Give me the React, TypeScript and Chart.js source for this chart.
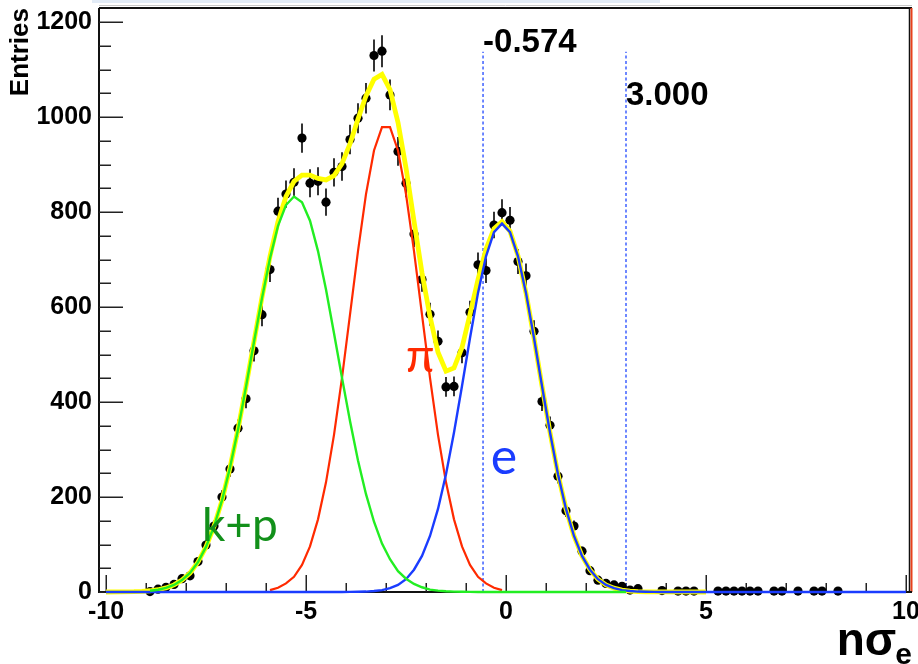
import React, { useEffect, useRef } from 'react';
import { Chart, registerables } from 'chart.js';

Chart.register(...registerables);

// ---- histogram (bin centres and entries) ----
const binCenters = [
  -8.9, -8.7, -8.5, -8.3, -8.1, -7.9, -7.7, -7.5, -7.3, -7.1,
  -6.9, -6.7, -6.5, -6.3, -6.1, -5.9, -5.7, -5.5, -5.3, -5.1,
  -4.9, -4.7, -4.5, -4.3, -4.1, -3.9, -3.7, -3.5, -3.3, -3.1,
  -2.9, -2.7, -2.5, -2.3, -2.1, -1.9, -1.7, -1.5, -1.3, -1.1,
  -0.9, -0.7, -0.5, -0.3, -0.1, 0.1, 0.3, 0.5, 0.7, 0.9,
  1.1, 1.3, 1.5, 1.7, 1.9, 2.1, 2.3, 2.5, 2.7, 2.9,
  3.1, 3.3, 3.9, 4.3, 4.5, 4.7, 5.3, 5.5, 5.7, 5.9,
  6.1, 6.3, 6.7, 6.9, 7.3, 7.7, 7.9, 8.3,
];
const entries = [
  1, 6, 10, 16, 28, 34, 64, 99, 139, 200,
  259, 345, 407, 508, 584, 679, 802, 838, 863, 956,
  861, 865, 821, 884, 896, 953, 998, 1040, 1130, 1139,
  1047, 928, 861, 754, 658, 585, 528, 432, 433, 504,
  589, 689, 677, 773, 799, 783, 696, 666, 549, 401,
  351, 244, 171, 139, 86, 45, 25, 18, 15, 12,
  4, 7, 3, 2, 2, 2, 2, 2, 2, 2,
  2, 2, 2, 2, 2, 2, 2, 2,
];

// ---- fit curves (sampled as drawn) ----
const kpX = [
  -8.9, -8.7, -8.5, -8.3, -8.1, -7.9, -7.7, -7.5, -7.3, -7.1,
  -6.9, -6.7, -6.5, -6.3, -6.1, -5.9, -5.7, -5.5, -5.3, -5.1,
  -4.9, -4.7, -4.5, -4.3, -4.1, -3.9, -3.7, -3.5, -3.3, -3.1,
  -2.9, -2.7, -2.5, -2.3, -2.1, -1.9, -1.7, -1.5, -1.3, -1.1,
  -0.9, -0.7, 3.0,
];
const kpY = [
  2.6, 4.8, 8.6, 14.9, 25, 40, 63, 95, 138, 193,
  262, 342, 432, 527, 619, 703, 771, 815, 833, 821,
  782, 718, 637, 545, 451, 360, 277, 206, 148, 102,
  69, 44, 28, 17, 10, 5, 3, 1.5, 0.8, 0.4,
  0.2, 0.1, 0,
];

const piX = [
  -5.9, -5.7, -5.5, -5.3, -5.1, -4.9, -4.7, -4.5, -4.3, -4.1,
  -3.9, -3.7, -3.5, -3.3, -3.1, -2.9, -2.7, -2.5, -2.3, -2.1,
  -1.9, -1.7, -1.5, -1.3, -1.1, -0.9, -0.7, -0.5, -0.3, -0.1,
];
const piY = [
  4, 9, 18, 32, 57, 96, 153, 231, 331, 451,
  584, 718, 838, 930, 979, 979, 930, 838, 718, 584,
  451, 331, 231, 153, 96, 57, 32, 18, 9, 4,
];

const eX = [
  -10.0, -4.1, -3.9, -3.7, -3.5, -3.3, -3.1, -2.9, -2.7, -2.5,
  -2.3, -2.1, -1.9, -1.7, -1.5, -1.3, -1.1, -0.9, -0.7, -0.5,
  -0.3, -0.1, 0.1, 0.3, 0.5, 0.7, 0.9, 1.1, 1.3, 1.5,
  1.7, 1.9, 2.1, 2.3, 2.5, 2.7, 2.9, 3.1, 3.3, 3.5,
  3.7, 3.9, 10.0,
];
const eY = [
  0, 0, 0.2, 0.4, 0.9, 2, 4, 8, 15, 27,
  47, 76, 118, 175, 248, 336, 434, 535, 630, 707,
  758, 776, 758, 707, 630, 535, 434, 336, 248, 175,
  118, 76, 47, 27, 15, 8, 4, 2, 0.9, 0.4,
  0.2, 0, 0,
];

const totalX = [
  -10.0, -9.3, -9.1, -8.9, -8.7, -8.5, -8.3, -8.1, -7.9, -7.7,
  -7.5, -7.3, -7.1, -6.9, -6.7, -6.5, -6.3, -6.1, -5.9, -5.7,
  -5.5, -5.3, -5.1, -4.9, -4.7, -4.5, -4.3, -4.1, -3.9, -3.7,
  -3.5, -3.3, -3.1, -2.9, -2.7, -2.5, -2.3, -2.1, -1.9, -1.7,
  -1.5, -1.3, -1.1, -0.9, -0.7, -0.5, -0.3, -0.1, 0.1, 0.3,
  0.5, 0.7, 0.9, 1.1, 1.3, 1.5, 1.7, 1.9, 2.1, 2.3,
  2.5, 2.7, 2.9, 3.1, 3.3, 3.5, 3.7, 3.9, 5.0,
];
const totalY = [
  0, 0.7, 1.3, 2.6, 4.8, 8.6, 14.9, 25, 40, 63,
  95, 138, 193, 262, 343, 433, 528, 621, 707, 780,
  833, 865, 878, 878, 871, 868, 877, 902, 944, 996,
  1045, 1080, 1090, 1058, 989, 893, 781, 672, 580, 505,
  465, 472, 515, 585, 658, 722, 765, 780, 760, 708,
  630, 535, 434, 336, 248, 175, 118, 76, 47, 27,
  15, 8, 4, 2, 0.9, 0.4, 0.2, 0.1, 0,
];

// ---- cut lines, axes ----
const cutValues = [-0.574, 3.0];
const cutLineTop = 1138;
const cutLabelY = [1138, 1026];
const xTickValues = [-10, -5, 0, 5, 10];
const yTickValues = [0, 200, 400, 600, 800, 1000, 1200];

const BOLD = '"Liberation Sans", Arial, Helvetica, sans-serif';
const LABEL_FONT = 'Lato, "Liberation Sans", sans-serif';

const speciesLabels = [
  { text: 'k+p', x: -7.6, y: 107, color: '#12901a', size: 46 },
  { text: 'π', x: -2.5, y: 463, color: '#ff2a00', size: 46 },
  { text: 'e', x: -0.38, y: 248, color: '#1a3cff', size: 50 },
];

const toXY = (xs: number[], ys: number[]) => xs.map((x, i) => ({ x, y: ys[i] }));

const rootFrame = {
  id: 'rootFrame',
  beforeDatasetsDraw(chart: any) {
    const { ctx, chartArea: a, scales } = chart;
    const x = scales.x;
    const y = scales.y;
    ctx.save();
    ctx.strokeStyle = '#c8c8c8';
    ctx.lineWidth = 1;
    ctx.beginPath();
    ctx.moveTo(a.left, 5.5);
    ctx.lineTo(a.right, 5.5);
    ctx.stroke();
    ctx.strokeStyle = '#111';
    ctx.lineWidth = 2;
    ctx.beginPath();
    ctx.moveTo(a.left, a.top);
    ctx.lineTo(a.right, a.top);
    ctx.stroke();
    ctx.lineWidth = 1.5;
    ctx.beginPath();
    ctx.moveTo(a.right - 2.5, a.top);
    ctx.lineTo(a.right - 2.5, a.bottom);
    ctx.stroke();
    ctx.strokeStyle = '#e8401c';
    ctx.lineWidth = 2;
    ctx.beginPath();
    ctx.moveTo(a.right - 0.5, a.top);
    ctx.lineTo(a.right - 0.5, a.bottom);
    ctx.stroke();
    ctx.strokeStyle = '#111';
    ctx.lineWidth = 2;
    ctx.beginPath();
    ctx.moveTo(a.left, a.top);
    ctx.lineTo(a.left, a.bottom);
    ctx.lineTo(a.right, a.bottom);
    ctx.stroke();
    ctx.strokeStyle = '#222';
    ctx.lineWidth = 1.5;
    for (let v = 0; v <= 1200; v += 50) {
      const py = Math.round(y.getPixelForValue(v)) + 0.25;
      const len = v % 200 === 0 ? 24 : 12;
      ctx.beginPath();
      ctx.moveTo(a.left, py);
      ctx.lineTo(a.left + len, py);
      ctx.stroke();
    }
    for (let v = -10; v <= 10; v += 1) {
      const px = Math.round(x.getPixelForValue(v)) + 0.25;
      const len = v % 5 === 0 ? 17 : 9;
      ctx.beginPath();
      ctx.moveTo(px, a.bottom);
      ctx.lineTo(px, a.bottom - len);
      ctx.stroke();
    }
    ctx.restore();
  },
  beforeDatasetDraw(chart: any, args: any) {
    const ds = chart.data.datasets[args.index];
    if (ds.label !== 'data') return;
    const { ctx, scales } = chart;
    const x = scales.x;
    const y = scales.y;
    ctx.save();
    ctx.strokeStyle = '#000';
    ctx.lineWidth = 1.6;
    binCenters.forEach((bx, i) => {
      const n = entries[i];
      const err = Math.sqrt(n);
      const px = x.getPixelForValue(bx);
      ctx.beginPath();
      ctx.moveTo(px, y.getPixelForValue(n - err));
      ctx.lineTo(px, y.getPixelForValue(n + err));
      ctx.stroke();
    });
    ctx.restore();
  },
  afterDatasetsDraw(chart: any) {
    const { ctx, chartArea: a, scales } = chart;
    const x = scales.x;
    const y = scales.y;
    ctx.save();
    ctx.textBaseline = 'alphabetic';
    ctx.textAlign = 'left';
    ctx.fillStyle = '#000';
    ctx.font = `bold 33px ${BOLD}`;
    cutValues.forEach((c, i) => {
      ctx.fillText(c.toFixed(3), x.getPixelForValue(c), y.getPixelForValue(cutLabelY[i]));
    });
    speciesLabels.forEach((l) => {
      ctx.fillStyle = l.color;
      ctx.font = `${l.size}px ${LABEL_FONT}`;
      ctx.fillText(l.text, x.getPixelForValue(l.x), y.getPixelForValue(l.y));
    });
    ctx.fillStyle = '#000';
    ctx.font = `bold 30px ${BOLD}`;
    const subW = ctx.measureText('e').width;
    const subX = a.right - subW;
    ctx.fillText('e', subX, 664);
    ctx.font = `bold 46px ${BOLD}`;
    const mainW = ctx.measureText('nσ').width;
    ctx.fillText('nσ', subX - mainW + 1, 655);
    ctx.restore();
  },
};

export default function App() {
  const canvasRef = useRef<HTMLCanvasElement | null>(null);

  useEffect(() => {
    const canvas = canvasRef.current;
    if (!canvas) return;
    const chart = new Chart(canvas, {
      type: 'scatter',
      data: {
        datasets: [
          {
            label: 'cut1',
            data: [{ x: cutValues[0], y: 0 }, { x: cutValues[0], y: cutLineTop }],
            showLine: true,
            borderColor: '#4a6aff',
            borderWidth: 1.6,
            borderDash: [3, 2.5],
            pointRadius: 0,
            order: 6,
            clip: false,
          },
          {
            label: 'cut2',
            data: [{ x: cutValues[1], y: 0 }, { x: cutValues[1], y: cutLineTop }],
            showLine: true,
            borderColor: '#4a6aff',
            borderWidth: 1.6,
            borderDash: [3, 2.5],
            pointRadius: 0,
            order: 6,
            clip: false,
          },
          {
            label: 'data',
            data: toXY(binCenters, entries),
            showLine: false,
            pointRadius: 4.6,
            pointBackgroundColor: '#000',
            pointBorderWidth: 0,
            pointBorderColor: '#000',
            order: 5,
            clip: false,
          },
          {
            label: 'total',
            data: toXY(totalX, totalY),
            showLine: true,
            borderColor: '#ffff00',
            borderWidth: 4.8,
            pointRadius: 0,
            tension: 0,
            order: 4,
            clip: false,
          },
          {
            label: 'pi',
            data: toXY(piX, piY),
            showLine: true,
            borderColor: '#ff2a00',
            borderWidth: 2.2,
            pointRadius: 0,
            tension: 0,
            order: 3,
            clip: false,
          },
          {
            label: 'e',
            data: toXY(eX, eY),
            showLine: true,
            borderColor: '#1a3cff',
            borderWidth: 2.4,
            pointRadius: 0,
            tension: 0,
            order: 2,
            clip: false,
          },
          {
            label: 'kp',
            data: toXY(kpX, kpY),
            showLine: true,
            borderColor: '#22ee22',
            borderWidth: 2.4,
            pointRadius: 0,
            tension: 0,
            order: 1,
            clip: false,
          },
        ],
      },
      options: {
        animation: false,
        responsive: false,
        maintainAspectRatio: false,
        layout: { padding: { left: 0, right: 6, top: 8, bottom: 0 } },
        plugins: {
          legend: { display: false },
          tooltip: { enabled: false },
        },
        scales: {
          x: {
            type: 'linear',
            min: -10.175,
            max: 10.15,
            grid: { display: false, drawTicks: false },
            border: { display: false },
            ticks: {
              color: '#000',
              font: { family: BOLD, size: 25, weight: 'bold' },
              padding: 5,
              maxRotation: 0,
              autoSkip: false,
              callback: (v: any) => String(v),
            },
            afterBuildTicks: (s: any) => {
              s.ticks = xTickValues.map((v) => ({ value: v }));
            },
            afterFit: (s: any) => {
              s.height = 72;
              s.paddingLeft = 0;
              s.paddingRight = 0;
            },
          },
          y: {
            type: 'linear',
            min: 0,
            max: 1230,
            grid: { display: false, drawTicks: false },
            border: { display: false },
            ticks: {
              color: '#000',
              font: { family: BOLD, size: 25, weight: 'bold' },
              padding: 7,
              autoSkip: false,
              callback: (v: any) => String(v),
            },
            afterBuildTicks: (s: any) => {
              s.ticks = yTickValues.map((v) => ({ value: v }));
            },
            afterFit: (s: any) => {
              s.width = 99;
              s.paddingTop = 0;
              s.paddingBottom = 0;
            },
            title: {
              display: true,
              text: 'Entries',
              align: 'end',
              color: '#000',
              font: { family: BOLD, size: 26, weight: 'bold' },
              padding: { top: 5, bottom: 0 },
            },
          },
        },
      },
      plugins: [rootFrame],
    } as any);
    return () => chart.destroy();
  }, []);

  return (
    <div style={{ position: 'absolute', left: 0, top: 0, width: 918, height: 664, background: '#fff' }}>
      <div style={{ position: 'absolute', left: 92, top: 0, width: 568, height: 3, background: '#e2ebf6' }} />
      <canvas ref={canvasRef} width={918} height={664} style={{ position: 'absolute', left: 0, top: 0 }} />
    </div>
  );
}
